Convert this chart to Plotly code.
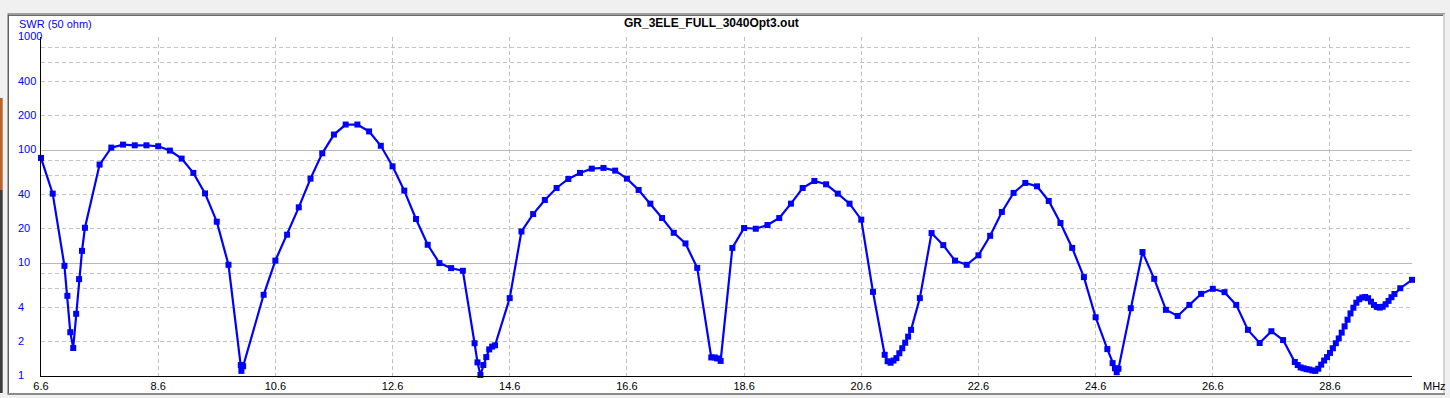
import math
import plotly.graph_objects as go

# ---------------- data ----------------
freq_mhz = [
    6.6, 6.8, 7.0, 7.05, 7.1, 7.15, 7.2, 7.25, 7.3, 7.35,
    7.6, 7.8, 8.0, 8.2, 8.4, 8.6, 8.8, 9.0, 9.2, 9.4, 9.6, 9.8,
    10.01, 10.02, 10.05, 10.4, 10.6, 10.8, 11.0, 11.2, 11.4, 11.6, 11.8, 12.0,
    12.2, 12.4, 12.6, 12.8, 13.0, 13.2, 13.4, 13.6, 13.8,
    14.0, 14.05, 14.1, 14.15, 14.2, 14.25, 14.3, 14.35,
    14.6, 14.8, 15.0, 15.2, 15.4, 15.6, 15.8, 16.0, 16.2, 16.4, 16.6, 16.8,
    17.0, 17.2, 17.4, 17.6, 17.8,
    18.04, 18.1, 18.14, 18.2,
    18.4, 18.6, 18.8, 19.0, 19.2, 19.4, 19.6, 19.8, 20.0, 20.2, 20.4, 20.6, 20.8,
    21.0, 21.05, 21.1, 21.15, 21.2, 21.25, 21.3, 21.35, 21.4, 21.45,
    21.6, 21.8, 22.0, 22.2, 22.4, 22.6, 22.8, 23.0, 23.2, 23.4, 23.6, 23.8,
    24.0, 24.2, 24.4, 24.6, 24.8,
    24.89, 24.93, 24.96, 24.99,
    25.2, 25.4, 25.6, 25.8, 26.0, 26.2, 26.4, 26.6, 26.8, 27.0, 27.2, 27.4,
    27.6, 27.8,
    28.0, 28.05, 28.1, 28.15, 28.2, 28.25, 28.3, 28.35, 28.4, 28.45, 28.5,
    28.55, 28.6, 28.65, 28.7, 28.75, 28.8, 28.85, 28.9, 28.95, 29.0, 29.05,
    29.1, 29.15, 29.2, 29.25, 29.3, 29.35, 29.4, 29.45, 29.5, 29.55, 29.6,
    29.65, 29.7,
    29.8, 30.0,
]

swr = [
    85.1, 41.1, 9.44, 5.12, 2.44, 1.77, 3.55, 7.2, 12.8, 20.5,
    74.3, 105, 111.6, 110, 110, 108, 98.8, 83.9, 62.7, 41.3, 23.2, 9.64,
    1.25, 1.11, 1.22, 5.23, 10.5, 17.8, 31.1, 55.8, 93.5, 137, 168, 168,
    146, 109, 71.7, 43.7, 24.5, 14.5, 9.98, 9.01, 8.53,
    1.95, 1.32, 1.02, 1.25, 1.47, 1.72, 1.82, 1.87,
    4.89, 19.0, 27.1, 36.1, 46.1, 55.4, 62.7, 68.4, 69.4, 65.7, 55.8, 44.3,
    33.5, 25.0, 18.5, 14.9, 9.06,
    1.46, 1.46, 1.43, 1.36,
    13.6, 20.4, 20.1, 21.7, 25.0, 33.5, 46.1, 53.2, 49.7, 41.1, 33.5, 24.2, 5.55,
    1.54, 1.35, 1.31, 1.37, 1.44, 1.59, 1.76, 1.97, 2.23, 2.56,
    4.89, 18.4, 14.4, 10.5, 9.64, 11.7, 17.4, 28.3, 41.7, 51.1, 47.7, 35.4,
    22.6, 13.6, 7.5, 3.31, 1.73,
    1.30, 1.17, 1.08, 1.16,
    3.98, 12.5, 7.24, 3.85, 3.40, 4.26, 5.33, 5.91, 5.52, 4.26, 2.56, 1.96,
    2.49, 2.08,
    1.33, 1.25, 1.19, 1.17, 1.15, 1.14, 1.12, 1.11, 1.16, 1.26, 1.37,
    1.47, 1.60, 1.76, 1.95, 2.15, 2.42, 2.75, 3.15, 3.58, 4.02, 4.45,
    4.78, 4.95, 5.00, 4.88, 4.55, 4.25, 4.08, 4.03, 4.10, 4.32, 4.62,
    4.98, 5.32,
    5.98, 7.10,
]

x_tick_values = [6.6, 8.6, 10.6, 12.6, 14.6, 16.6, 18.6, 20.6, 22.6, 24.6, 26.6, 28.6]
x_tick_labels = ["6.6", "8.6", "10.6", "12.6", "14.6", "16.6", "18.6", "20.6",
                 "22.6", "24.6", "26.6", "28.6"]
y_label_values = [1, 2, 4, 10, 20, 40, 100, 200, 400, 1000]
y_label_texts = ["1", "2", "4", "10", "20", "40", "100", "200", "400", "1000"]
y_major_grid = [10, 100, 1000]
y_minor_grid = [2, 4, 6, 8, 20, 40, 60, 80, 200, 400, 600, 800]

title_text = "GR_3ELE_FULL_3040Opt3.out"
y_title_text = "SWR (50 ohm)"
x_unit_text = "MHz"

# ---------------- layout geometry ----------------
W, H = 1450, 398
ML, MR, MT, MB = 41, 38, 37, 22
PW, PH = W - ML - MR, H - MT - MB
FONT = "Liberation Sans, Arial, sans-serif"
BLUE = "#0000FF"


def px(x):
    return (x - ML) / PW


def py(y):
    return (H - MB - y) / PH


fig = go.Figure()
fig.add_trace(go.Scatter(
    x=freq_mhz, y=swr, mode="lines+markers",
    line=dict(color=BLUE, width=2.2),
    marker=dict(symbol="square", size=6, color=BLUE, line=dict(width=0)),
    cliponaxis=False, showlegend=False, hoverinfo="x+y",
))

annotations = []
for v, t in zip(y_label_values, y_label_texts):
    annotations.append(dict(
        x=px(15.5), xref="paper", y=math.log10(v), yref="y",
        text=t, showarrow=False, xanchor="left", yanchor="middle", yshift=1,
        font=dict(family=FONT, size=11, color=BLUE),
    ))
annotations.append(dict(
    x=px(16.5), xref="paper", y=py(24.5), yref="paper", text=y_title_text,
    showarrow=False, xanchor="left", yanchor="middle",
    font=dict(family=FONT, size=11, color=BLUE),
))
annotations.append(dict(
    x=px(711.5), xref="paper", y=py(23), yref="paper",
    text="<b>" + title_text + "</b>", showarrow=False,
    xanchor="center", yanchor="middle",
    font=dict(family=FONT, size=12, color="black"),
))
annotations.append(dict(
    x=px(1420.5), xref="paper", y=py(386), yref="paper", text=x_unit_text,
    showarrow=False, xanchor="left", yanchor="middle",
    font=dict(family=FONT, size=11, color="black"),
))


def rect(x0, y0, x1, y1, color):
    return dict(type="rect", xref="paper", yref="paper",
                x0=px(x0), x1=px(x1), y0=py(y1), y1=py(y0),
                fillcolor=color, line=dict(width=0), layer="below")


shapes = [
    rect(0, 0, W, 13.5, "#f0f0f0"),
    rect(0, 13, W, 14.5, "#a0a0a0"),
    rect(8, 14.5, 1444, 16, "#6a6a6a"),
    rect(0, 13, 7.5, H, "#f0f0f0"),
    rect(0, 98, 2.7, 190, "#b5652b"),
    rect(0, 190, 2.7, 393, "#3c3c3c"),
    rect(7.5, 14.5, 9, 394, "#5f5f5f"),
    rect(1443, 14.5, 1445, 394, "#d4d4d4"),
    rect(1445, 13, W, H, "#f0f0f0"),
    rect(7.5, 393, 1445, 395, "#8a8a8a"),
    rect(0, 395, W, H, "#f0f0f0"),
]

fig.update_layout(
    width=W, height=H, autosize=False,
    margin=dict(l=ML, r=MR, t=MT, b=MB, pad=0),
    paper_bgcolor="white", plot_bgcolor="white",
    showlegend=False,
    annotations=annotations,
    shapes=shapes,
    font=dict(family=FONT, size=11, color="black"),
)

fig.update_xaxes(
    range=[6.6, 30.0], tickmode="array", tickvals=x_tick_values, ticktext=x_tick_labels,
    showgrid=True, gridcolor="#c0c0c0", griddash="4px,3px", gridwidth=1,
    showline=True, linecolor="black", linewidth=1, ticks="",
    tickfont=dict(family=FONT, size=11, color="black"),
    zeroline=False, fixedrange=True, automargin=False,
)
fig.update_yaxes(
    type="log", range=[0, 3], tickmode="array", tickvals=y_major_grid,
    showticklabels=False, ticks="",
    showgrid=True, gridcolor="#b8b8b8", gridwidth=1,
    minor=dict(tickmode="array", tickvals=y_minor_grid, showgrid=True,
               gridcolor="#c4c4c4", griddash="4px,3px", gridwidth=1, ticks=""),
    showline=True, linecolor="black", linewidth=1,
    zeroline=False, fixedrange=True, automargin=False,
)

fig.write_html("out.html")
